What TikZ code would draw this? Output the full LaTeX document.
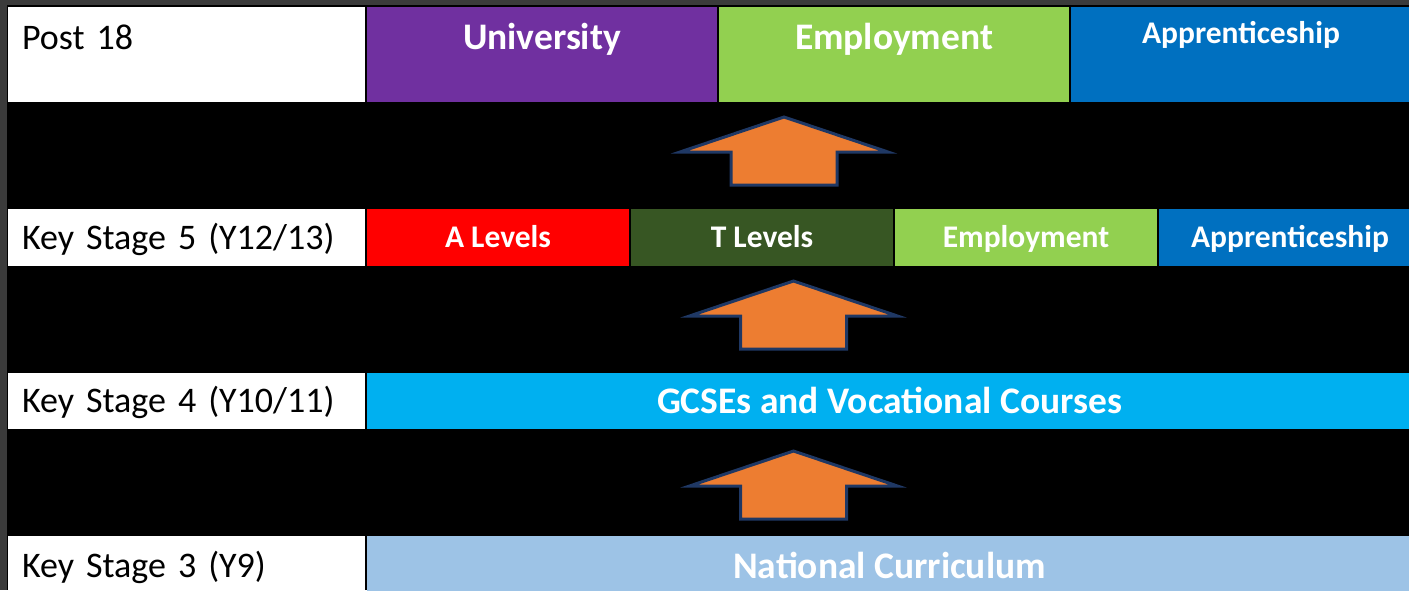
\documentclass[tikz,border=0pt]{standalone}
\usepackage{fontspec}
\setmainfont{Carlito}
\usetikzlibrary{positioning}
\definecolor{frame}{HTML}{3B3B3B}
\definecolor{uni}{HTML}{7030A0}
\definecolor{empl}{HTML}{92D050}
\definecolor{appr}{HTML}{0070C0}
\definecolor{alev}{HTML}{FF0000}
\definecolor{tlev}{HTML}{375623}
\definecolor{gcse}{HTML}{00B0F0}
\definecolor{natc}{HTML}{9DC3E6}
\definecolor{arrowfill}{HTML}{ED7D31}
\definecolor{arrowline}{HTML}{1F3864}
\tikzstyle{cell}=[rectangle,inner sep=0pt,outer sep=0pt,text height=24pt,text depth=0pt]
\tikzstyle{stage}=[cell,fill=white,text=black,font=\fontsize{36}{44}\selectfont,text height=23pt,
  inner xsep=14pt,text width=329pt,align=left,minimum width=357pt]
\tikzstyle{route}=[cell,text=white,font=\bfseries\fontsize{37.5}{44}\selectfont]
\tikzstyle{small route}=[route,font=\bfseries\fontsize{31.5}{38}\selectfont,text height=20pt]
\tikzstyle{arrowbox}=[fill=arrowfill,draw=arrowline,line width=3pt,line join=miter]
\tikzset{uparrow/.pic={
  \draw[arrowbox] (-104,35) -- (0,0) -- (104,35) -- (53,35) -- (53,68)
    -- (-53,68) -- (-53,35) -- cycle;}}

\begin{document}
\begin{tikzpicture}[x=1pt,y=-1pt,node distance=2pt]
    \clip (0,0) rectangle (1409,590);
    \fill[frame] (0,0) rectangle (1409,590);
    \fill[black] (7,5) rectangle (1409,590);

    % post 18
    \node[stage, anchor=north west, minimum height=95pt, text depth=34pt] (post) at (8,7) {Post 18};
    \node[route, fill=uni, right=of post, minimum width=350pt, minimum height=95pt, text depth=35pt] (univ) {University};
    \node[route, fill=empl, right=of univ, minimum width=350pt, minimum height=95pt, text depth=35pt] (emplA) {Employment};
    \node[small route, fill=appr, right=of emplA, minimum width=340pt, minimum height=95pt, text depth=43pt] (apprA) {Apprenticeship};

    % key stage 5
    \node[stage, anchor=north west, minimum height=57pt] (ks5) at (8,209) {Key Stage 5 (Y12/13)};
    \node[small route, fill=alev, right=of ks5, minimum width=262pt, minimum height=57pt] (alevels) {A Levels};
    \node[small route, fill=tlev, right=of alevels, minimum width=262pt, minimum height=57pt] (tlevels) {T Levels};
    \node[small route, fill=empl, right=of tlevels, minimum width=262pt, minimum height=57pt] (emplB) {Employment};
    \node[small route, fill=appr, right=of emplB, minimum width=262pt, minimum height=57pt] (apprB) {Apprenticeship};

    % key stage 4
    \node[stage, anchor=north west, minimum height=56pt] (ks4) at (8,373) {Key Stage 4 (Y10/11)};
    \node[route, fill=gcse, right=of ks4, minimum width=1045pt, minimum height=56pt] (gcses) {GCSEs and Vocational Courses};

    % key stage 3
    \node[stage, anchor=north west, minimum height=60pt] (ks3) at (8,536) {Key Stage 3 (Y9)};
    \node[route, fill=natc, right=of ks3, minimum width=1045pt, minimum height=60pt] (natcurr) {National Curriculum};

    % arrows between the stages
    \pic (upA) at (784,117) {uparrow};
    \pic (upB) at (793.5,281) {uparrow};
    \pic (upC) at (793.5,451) {uparrow};
\end{tikzpicture}
\end{document}
